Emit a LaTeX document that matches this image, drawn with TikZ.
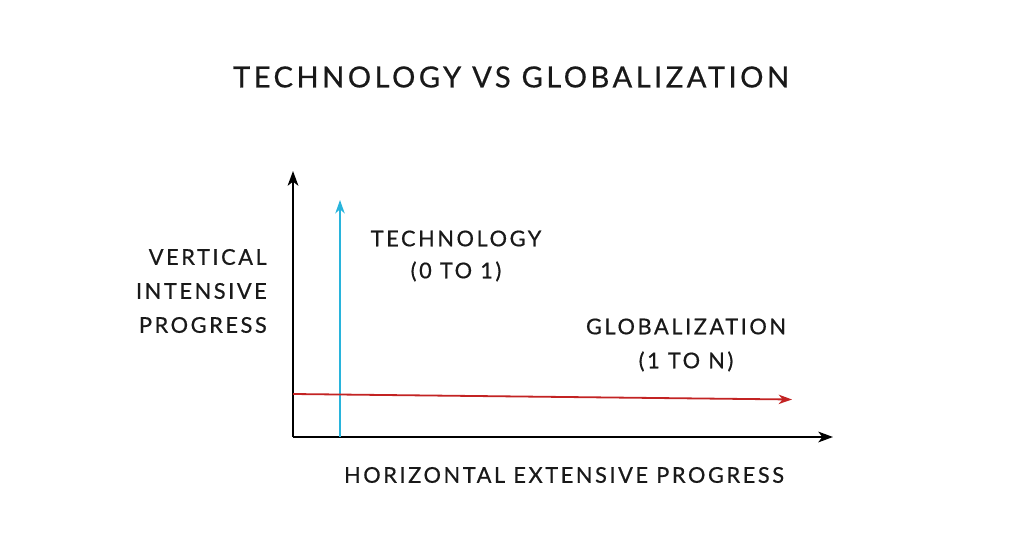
\documentclass[tikz,border=0pt]{standalone}
\usepackage{fontspec}
\setmainfont{Lato}[LetterSpace=12, FakeBold=0.6]
\usetikzlibrary{arrows.meta}
\definecolor{techblue}{RGB}{40,180,220}
\definecolor{globred}{RGB}{195,35,35}
\tikzset{
  lbl/.style={font=\fontsize{16.3}{19}\selectfont, text=black!90, inner sep=0pt, align=center},
  axis/.style={line width=2.2pt*0.75, -{Stealth[length=11pt,width=8pt,inset=3pt]}},
  techarrow/.style={techblue, line width=1.8pt*0.75, -{Stealth[length=10pt,width=7pt,inset=3pt]}},
  globarrow/.style={globred, line width=1.8pt*0.75, -{Stealth[length=10pt,width=7pt,inset=3pt]}},
}
\begin{document}
\begin{tikzpicture}[x=0.75pt,y=-0.75pt]
\useasboundingbox[fill=white] (0,0) rectangle (1024,546);
\node[lbl, font=\fontsize{21.8}{24}\selectfont] (title) at (511,77) {TECHNOLOGY VS GLOBALIZATION};
\coordinate (o) at (293,437);
\coordinate (ytop) at (293,171);
\coordinate (xend) at (833,437);
\draw[axis] (o) -- (ytop);
\draw[axis] (o) -- (xend);
\coordinate (tb) at (340,437);
\coordinate (tt) at (340,200);
\draw[techarrow] (tb) -- (tt);
\coordinate (gs) at (293,394);
\coordinate (ge) at (792,399.5);
\draw[globarrow] (gs) -- (ge);
\node[lbl, align=right, anchor=east] (vlab) at (267,291) {VERTICAL\\[6.5pt]INTENSIVE\\[6.5pt]PROGRESS};
\node[lbl] (tech) at (456,256) {TECHNOLOGY\\[5pt](0 TO 1)};
\node[lbl] (glob) at (686,345) {GLOBALIZATION\\[6.5pt](1 TO N)};
\node[lbl] (hlab) at (564,475) {HORIZONTAL EXTENSIVE PROGRESS};
\end{tikzpicture}
\end{document}
